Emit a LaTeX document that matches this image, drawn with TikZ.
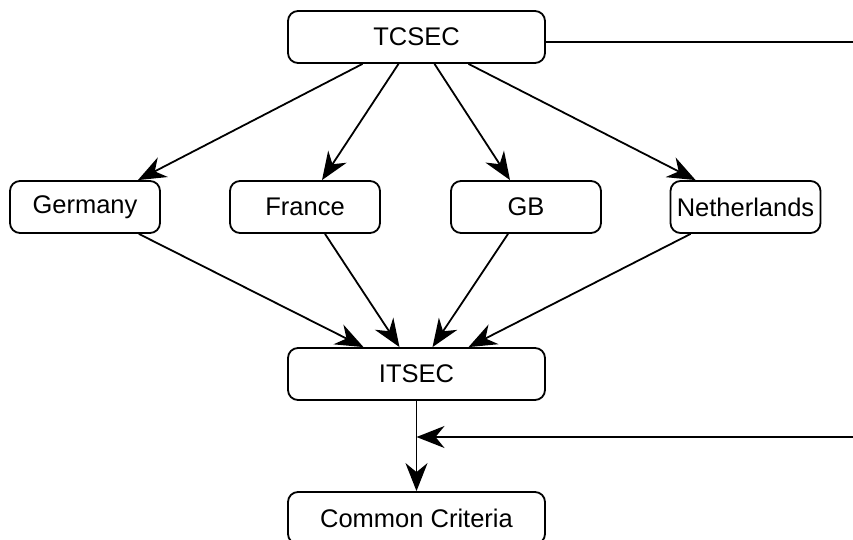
\documentclass[tikz,border=0pt]{standalone}
\usepackage{fontspec}
\setmainfont{Liberation Sans}
\usetikzlibrary{arrows.meta}
\begin{document}
\begin{tikzpicture}[x=1pt,y=-1pt,
  box/.style={draw, line width=1.8pt, rounded corners=10pt, minimum height=52pt,
    inner sep=0pt, font=\fontsize{25.5}{30}\selectfont},
  wide/.style={box, minimum width=257pt},
  narrow/.style={box, minimum width=150pt},
  flow/.style={line width=1.8pt, -{Stealth[length=28pt, width=22pt, inset=9pt]}},
  plain/.style={line width=1.8pt}]
\useasboundingbox (0,0) rectangle (853,540);
\node[wide]   (tcsec) at (416.5,37)  {TCSEC};
\node[narrow] (de)    at (85,207)    {Germany};
\node[narrow] (fr)    at (305,207)   {France};
\node[narrow] (gb)    at (526,207)   {GB};
\node[narrow] (nl)    at (745.5,207) {Netherlands};
\node[wide]   (itsec) at (416.5,374) {ITSEC};
\node[wide]   (cc)    at (416.5,518) {Common Criteria};
\coordinate (topend) at (853,42);
\coordinate (sideend) at (853,437);
\coordinate (join) at (itsec.south |- sideend);
% TCSEC to the national criteria
\draw[flow] ([xshift=-54pt]tcsec.south) -- ([xshift=-23pt]de.north east);
\draw[flow] ([xshift=-18pt]tcsec.south) -- ([xshift=17pt]fr.north);
\draw[flow] ([xshift=18pt]tcsec.south)  -- ([xshift=-16pt]gb.north);
\draw[flow] ([xshift=52pt]tcsec.south)  -- ([xshift=26pt]nl.north west);
% national criteria to ITSEC
\draw[flow] ([xshift=-22pt]de.south east) -- ([xshift=-53pt]itsec.north);
\draw[flow] ([xshift=20pt]fr.south)       -- ([xshift=-17pt]itsec.north);
\draw[flow] ([xshift=-18pt]gb.south)      -- ([xshift=16pt]itsec.north);
\draw[flow] ([xshift=21pt]nl.south west)  -- ([xshift=52pt]itsec.north);
% ITSEC to Common Criteria, with the side feed
\draw[flow] (itsec.south) -- (cc.north);
\draw[flow] (sideend) -- (join);
\draw[plain] (tcsec.east |- topend) -- (topend);
\end{tikzpicture}
\end{document}
